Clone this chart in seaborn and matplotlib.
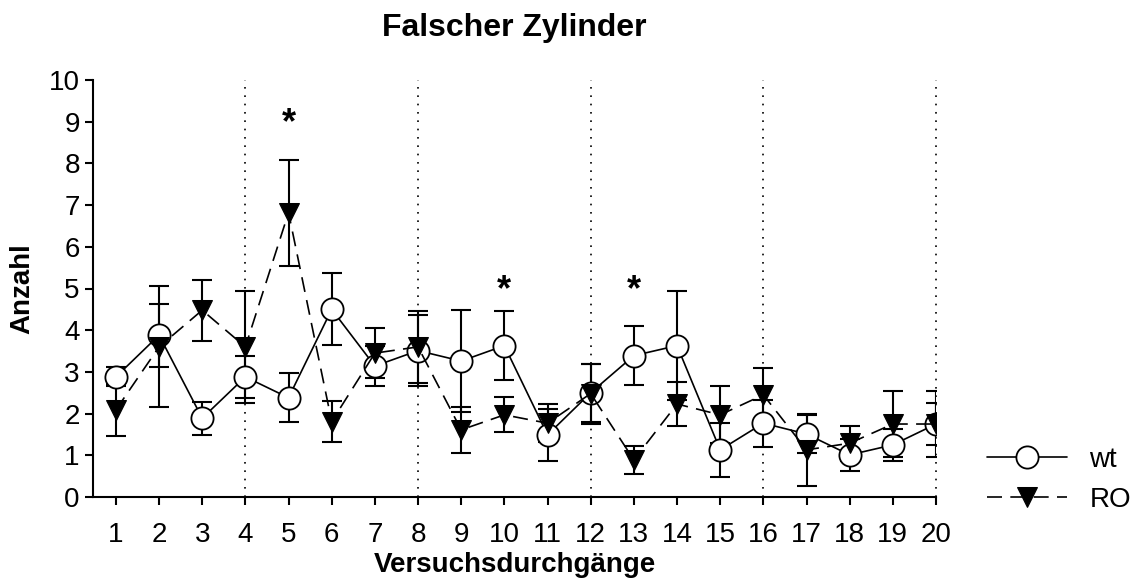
import numpy as np
import pandas as pd
import matplotlib
matplotlib.use("Agg")
import matplotlib.pyplot as plt
import seaborn as sns

# ---- data ----
trials = list(range(1, 21))
wt_mean = [2.88, 3.88, 1.89, 2.88, 2.38, 4.50, 3.14, 3.51, 3.26, 3.63,
           1.49, 2.50, 3.39, 3.63, 1.13, 1.77, 1.51, 1.01, 1.25, 1.75]
wt_err = [0.23, 0.76, 0.40, 0.51, 0.59, 0.86, 0.47, 0.85, 1.23, 0.82,
          0.63, 0.70, 0.70, 1.30, 0.65, 0.56, 0.45, 0.38, 0.38, 0.50]
ro_mean = [2.09, 3.60, 4.48, 3.60, 6.82, 1.81, 3.45, 3.60, 1.61, 1.97,
           1.77, 2.48, 0.89, 2.23, 1.97, 2.45, 1.13, 1.29, 1.75, 1.75]
ro_err = [0.62, 1.45, 0.73, 1.34, 1.27, 0.50, 0.60, 0.87, 0.56, 0.42,
          0.45, 0.72, 0.34, 0.52, 0.68, 0.65, 0.87, 0.42, 0.80, 0.80]
group_labels = ["wt", "RO"]
sig_trials = [5, 10, 13]
sig_heights = [8.95, 4.95, 4.95]
divider_trials = [4, 8, 12, 16, 20]
title = "Falscher Zylinder"
xlabel = "Versuchsdurchgänge"
ylabel = "Anzahl"

sns.set_style("ticks")
plt.rcParams["font.family"] = ["Liberation Sans", "DejaVu Sans"]
plt.rcParams["text.color"] = "black"
plt.rcParams["axes.labelcolor"] = "black"
plt.rcParams["xtick.color"] = "black"
plt.rcParams["ytick.color"] = "black"

fig = plt.figure(figsize=(11.45, 5.79), dpi=100)
ax = fig.add_axes([93 / 1145, 82 / 579, 843 / 1145, 417 / 579])

df_wt = pd.DataFrame({"trial": trials, "value": wt_mean})
df_ro = pd.DataFrame({"trial": trials, "value": ro_mean})

# dotted dividers
ax.vlines(divider_trials, 0, 10, colors="black", linestyles=(0, (1, 4)),
          linewidth=1.2, zorder=1, clip_on=False)

# error bars
ax.errorbar(trials, wt_mean, yerr=wt_err, fmt="none", ecolor="black",
            elinewidth=1.5, capsize=7, capthick=1.5, zorder=2)
ax.errorbar(trials, ro_mean, yerr=ro_err, fmt="none", ecolor="black",
            elinewidth=1.5, capsize=7, capthick=1.5, zorder=2)

sns.lineplot(data=df_wt, x="trial", y="value", ax=ax, color="black",
             linewidth=1.2, marker="o", markersize=16,
             markerfacecolor="white", markeredgecolor="black",
             markeredgewidth=1.3, label=group_labels[0], zorder=3)
sns.lineplot(data=df_ro, x="trial", y="value", ax=ax, color="black",
             linewidth=1.2, linestyle=(0, (9, 5)), marker="v", markersize=15,
             markerfacecolor="black", markeredgecolor="black",
             label=group_labels[1], zorder=4)

for xs, ys in zip(sig_trials, sig_heights):
    ax.text(xs, ys, "*", ha="center", va="center", fontsize=26,
            fontweight="bold", color="black")

ax.set_xlim(0.47, 20)
ax.set_ylim(0, 10)
ax.set_xticks(trials)
ax.set_xticklabels([str(t) for t in trials])
ax.set_yticks(range(0, 11))
ax.tick_params(axis="both", labelsize=20, length=6, width=1.5,
               color="black", labelcolor="black", direction="out")
ax.tick_params(axis="x", pad=12)
for s in ["left", "bottom"]:
    ax.spines[s].set_linewidth(1.5)
    ax.spines[s].set_color("black")
sns.despine(ax=ax)

ax.set_xlabel(xlabel, fontsize=20, fontweight="bold", labelpad=3,
              color="black")
ax.set_ylabel(ylabel, fontsize=20, fontweight="bold", labelpad=10,
              color="black")
ax.set_title(title, fontsize=23, fontweight="bold", pad=32, color="black")

handles, labels = ax.get_legend_handles_labels()
leg = ax.legend(handles, labels, loc="center left",
                bbox_to_anchor=(1.06, 0.041), frameon=False, fontsize=20,
                handlelength=2.9, handletextpad=0.8, labelspacing=0.52,
                borderpad=0, borderaxespad=0)
for t in leg.get_texts():
    t.set_color("black")

fig.savefig("out.png", dpi=100)
